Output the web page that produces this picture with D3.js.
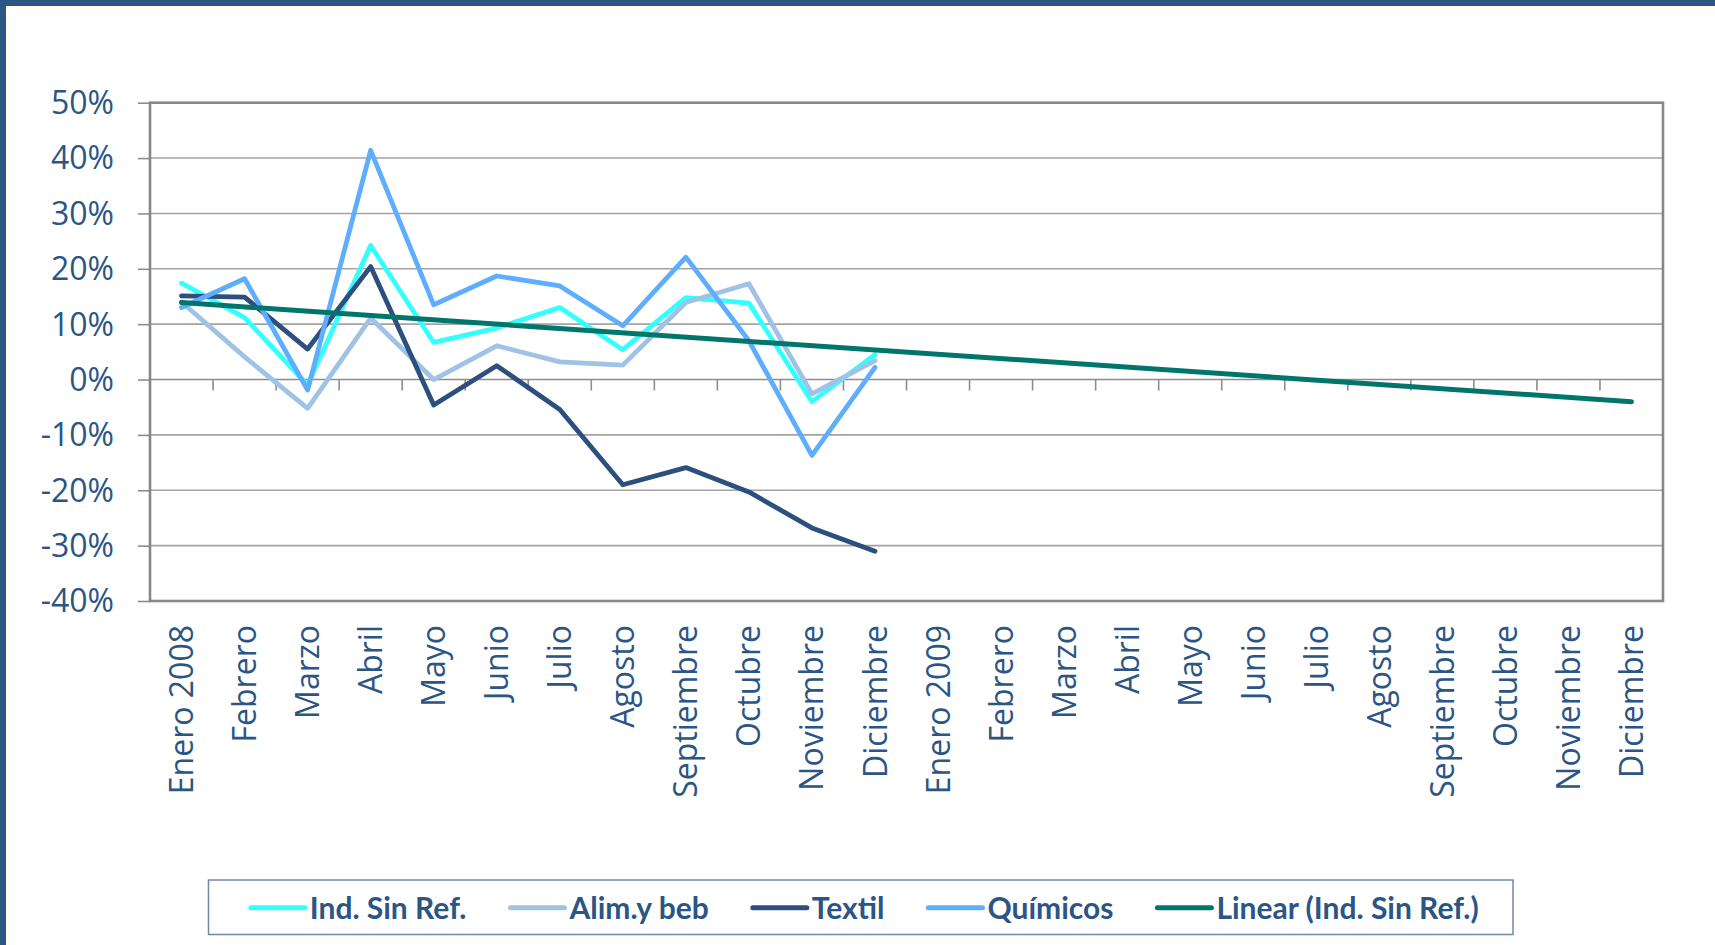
<!DOCTYPE html>
<html><head><meta charset="utf-8">
<script src="https://cdn.jsdelivr.net/npm/d3@7"></script>
<style>body{margin:0;background:#fff;overflow:hidden}svg{display:block}</style>
</head><body><svg id="chart" width="1715" height="945"></svg>
<script>
// ---- data ----
const categories = ["Enero 2008","Febrero","Marzo","Abril","Mayo","Junio","Julio","Agosto","Septiembre","Octubre","Noviembre","Diciembre",
  "Enero 2009","Febrero","Marzo","Abril","Mayo","Junio","Julio","Agosto","Septiembre","Octubre","Noviembre","Diciembre"];
const yTickValues = [-40,-30,-20,-10,0,10,20,30,40,50];
const indSinRef = [17.4, 11.2, -1.0, 24.2, 6.7, 9.3, 13.0, 5.4, 14.8, 13.8, -4.0, 4.5];
const alimYBeb  = [14.0, 4.1, -5.2, 11.1, 0.0, 6.1, 3.2, 2.6, 13.9, 17.3, -2.6, 3.4];
const textil    = [15.1, 14.9, 5.5, 20.4, -4.6, 2.5, -5.4, -19.0, -15.9, -20.3, -26.8, -31.0];
const quimicos  = [13.0, 18.2, -1.9, 41.4, 13.5, 18.7, 16.9, 9.7, 22.1, 7.0, -13.7, 2.2];
const trendIndex  = [0, 23];
const trendValues = [13.9, -4.0];
const seriesNames  = ["Ind. Sin Ref.","Alim.y beb","Textil","Químicos","Linear (Ind. Sin Ref.)"];
const seriesColors = ["#33ffff","#a0c2e4","#2c4f7e","#5eaefd","#00756c"];

// ---- layout ----
const svg = d3.select("#chart");
const W = 1715, H = 945;
const plot = {left:150, right:1663, top:102.7, bottom:601};
const textColor = "#2b5585";

// outer frame (partially outside view)
svg.append("rect").attr("x",3).attr("y",3).attr("width",W+40).attr("height",H+40)
  .attr("fill","#fff").attr("stroke","#2d5682").attr("stroke-width",6);

const x = d3.scaleBand().domain(d3.range(categories.length)).range([plot.left, plot.right]).padding(0);
const y = d3.scaleLinear().domain([-40,50]).range([plot.bottom, plot.top]);
const cx = i => x(i) + x.bandwidth()/2;

// gridlines
svg.append("g").selectAll("line").data(yTickValues).join("line")
  .attr("x1",plot.left).attr("x2",plot.right)
  .attr("y1",d=>y(d)).attr("y2",d=>y(d))
  .attr("stroke", d => d===0 ? "#8c8c8c" : "#a3a3a3").attr("stroke-width",1.6);

// y axis
const yAxis = svg.append("g").attr("transform",`translate(${plot.left},0)`)
  .call(d3.axisLeft(y).tickValues(yTickValues).tickSize(12).tickPadding(24).tickFormat(d=>d+"%"));
yAxis.select(".domain").remove();
yAxis.selectAll(".tick line").attr("stroke","#8c8c8c").attr("stroke-width",1.6);
yAxis.selectAll("text").attr("fill",textColor).attr("font-family","'Open Sans', sans-serif")
  .attr("font-size",32).attr("dy","0.34em");

// x ticks on zero line at band boundaries
svg.append("g").selectAll("line").data(d3.range(1, categories.length)).join("line")
  .attr("x1",d=>x(d)).attr("x2",d=>x(d))
  .attr("y1",y(0)).attr("y2",y(0)+11)
  .attr("stroke","#8c8c8c").attr("stroke-width",1.6);

// x labels
const xAxis = svg.append("g").attr("transform",`translate(0,${plot.bottom})`)
  .call(d3.axisBottom(x).tickSize(0).tickFormat(i=>categories[i]));
xAxis.select(".domain").remove();
xAxis.selectAll("text")
  .attr("transform","rotate(-90)")
  .attr("x",-24).attr("y",0).attr("dy","0.36em")
  .attr("text-anchor","end")
  .attr("fill",textColor).attr("font-family","'Open Sans', sans-serif").attr("font-size",32);

// plot border
svg.append("rect").attr("x",plot.left).attr("y",plot.top)
  .attr("width",plot.right-plot.left).attr("height",plot.bottom-plot.top)
  .attr("fill","none").attr("stroke","#878787").attr("stroke-width",2.6);

// series
const seriesData = [indSinRef, alimYBeb, textil, quimicos];
const line = d3.line().x((d,i)=>cx(i)).y(d=>y(d));
seriesData.forEach((vals,k)=>{
  svg.append("path").datum(vals).attr("d",line)
    .attr("fill","none").attr("stroke",seriesColors[k]).attr("stroke-width",4.8)
    .attr("stroke-linejoin","round").attr("stroke-linecap","round");
});
// trendline
const trendLine = d3.line().x(d=>cx(d[0])).y(d=>y(d[1]));
svg.append("path").datum(trendIndex.map((t,i)=>[t,trendValues[i]])).attr("d",trendLine)
  .attr("fill","none").attr("stroke",seriesColors[4]).attr("stroke-width",5)
  .attr("stroke-linecap","round");

// legend
const lg = {x:208.5, y:880, w:1304.5, h:54.5};
svg.append("rect").attr("x",lg.x).attr("y",lg.y).attr("width",lg.w).attr("height",lg.h)
  .attr("fill","#fff").attr("stroke","#7088aa").attr("stroke-width",1.5);
const legendG = svg.append("g");
let cursor = 0;
const items = seriesNames.map((name,k)=>{
  const g = legendG.append("g");
  g.append("line").attr("x1",0).attr("x2",54).attr("y1",0).attr("y2",0)
    .attr("stroke",seriesColors[k]).attr("stroke-width",5).attr("stroke-linecap","round");
  const t = g.append("text").attr("x",59).attr("y",0).attr("dy","0.36em")
    .attr("fill",textColor).attr("font-family","Lato, sans-serif").attr("font-weight","bold")
    .attr("font-size",30).text(name);
  const w = 59 + t.node().getComputedTextLength();
  g.attr("data-off",cursor);
  const off = cursor;
  cursor += w + 44;
  return {g, off};
});
const total = cursor - 44;
const startX = lg.x + (lg.w - total)/2 + 4;
items.forEach(it=>it.g.attr("transform",`translate(${startX+it.off},${lg.y+lg.h/2+0.5})`));
</script></body></html>
